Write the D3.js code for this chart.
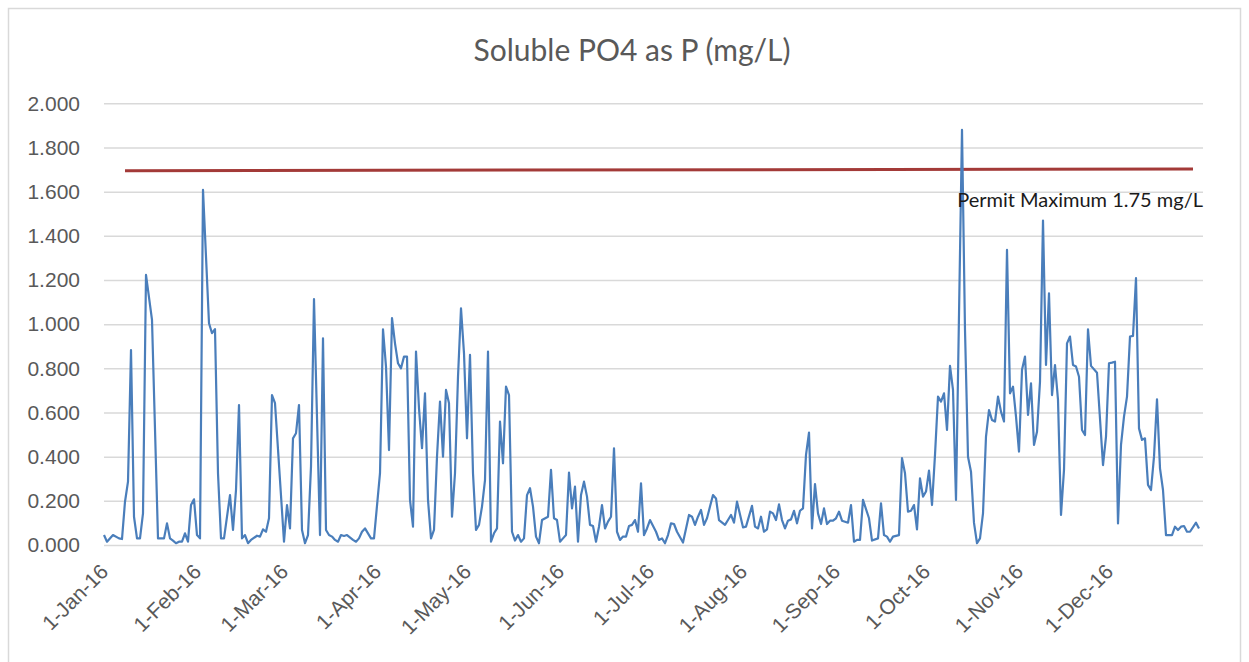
<!DOCTYPE html>
<html>
<head>
<meta charset="utf-8">
<script src="https://cdn.jsdelivr.net/npm/d3@7"></script>
<style>
    body { margin: 0; background: #fff; }
    svg { display: block; font-family: Lato, "Open Sans", sans-serif; }
    .grid line { stroke: #d9d9d9; stroke-width: 1.5; }
    .grid .domain { display: none; }
    .tick text { fill: #595959; font-size: 21px; }
    .po4 { fill: none; stroke: #4a7ebb; stroke-width: 2.2; stroke-linejoin: round; }
    .permit { fill: none; stroke: #a33a38; stroke-width: 3; }
</style>
</head>
<body>
<div class="panel"></div>
<script>

// Data ////////////////////////////////////

// day offset from 1-Jan-16, daily sample value (mg/L)
const sampleDay = [
    0, 1, 3, 5, 6, 7, 8, 9, 10, 11, 12, 13, 14, 16, 18, 20, 21, 22, 23, 24,
    25, 26, 27, 28, 29, 30, 31, 32, 33, 35, 36, 37, 38, 39, 40, 42, 43, 44, 45, 46,
    47, 48, 49, 51, 52, 53, 54, 55, 56, 57, 60, 61, 62, 63, 64, 65, 66, 67, 68, 69,
    70, 72, 73, 74, 75, 76, 77, 78, 79, 80, 81, 83, 84, 85, 86, 87, 89, 90, 92, 93,
    94, 95, 96, 97, 98, 99, 100, 101, 102, 103, 104, 105, 106, 107, 108, 109, 110, 111, 112, 113,
    114, 115, 116, 117, 118, 119, 120, 121, 122, 123, 124, 125, 126, 127, 128, 129, 130, 131, 132, 133,
    134, 135, 136, 137, 138, 139, 140, 141, 142, 143, 144, 145, 146, 148, 149, 150, 151, 152, 153, 154,
    155, 156, 157, 158, 159, 160, 161, 162, 163, 164, 165, 166, 167, 168, 169, 170, 171, 172, 173, 174,
    175, 176, 177, 178, 179, 180, 181, 182, 184, 185, 186, 187, 188, 189, 190, 191, 193, 195, 196, 197,
    198, 199, 200, 201, 202, 203, 204, 205, 207, 208, 209, 210, 211, 213, 214, 216, 217, 218, 219, 220,
    221, 222, 223, 224, 225, 226, 227, 228, 229, 230, 231, 232, 233, 234, 235, 236, 237, 238, 239, 240,
    241, 242, 243, 244, 245, 246, 248, 249, 250, 251, 252, 253, 255, 256, 258, 259, 260, 261, 262, 263,
    265, 266, 267, 268, 269, 270, 271, 272, 273, 274, 275, 276, 277, 278, 279, 280, 281, 282, 283, 284,
    286, 287, 288, 289, 290, 291, 292, 293, 294, 295, 296, 297, 298, 299, 300, 301, 302, 303, 304, 305,
    306, 307, 308, 309, 310, 311, 312, 313, 314, 315, 316, 317, 318, 319, 320, 321, 322, 323, 324, 325,
    326, 327, 328, 329, 331, 333, 334, 335, 336, 337, 338, 339, 340, 341, 342, 343, 344, 345, 346, 347,
    348, 349, 350, 351, 352, 353, 354, 356, 357, 358, 359, 360, 361, 362, 364, 365
];

const po4 = [
    .045, .015, .045, .030, .027, .196, .287, .883, .128, .030, .030, .143, 1.223, 1.019, .030, .030, .098, .030, .020, .008,
    .015, .015, .053, .015, .181, .207, .045, .030, 1.608, 1.004, .959, .977, .325, .030, .030, .226, .068, .249, .634, .030,
    .045, .008, .023, .042, .038, .071, .060, .121, .679, .642, .015, .181, .075, .483, .506, .634, .068, .008, .045, .355,
    1.113, .045, .936, .068, .045, .038, .023, .015, .045, .041, .045, .023, .015, .030, .060, .075, .030, .030, .325, .977,
    .808, .430, 1.027, .913, .823, .800, .853, .853, .204, .083, .876, .619, .438, .687, .204, .030, .068, .400, .649, .400,
    .702, .642, .128, .325, .762, 1.072, .868, .483, .861, .325, .068, .091, .174, .294, .876, .015, .053, .075, .559, .370,
    .717, .679, .060, .020, .045, .015, .030, .226, .257, .174, .038, .008, .113, .128, .340, .121, .113, .015, .030, .045,
    .328, .166, .264, .015, .226, .287, .219, .091, .086, .015, .083, .181, .075, .106, .128, .438, .060, .023, .038, .038,
    .086, .091, .113, .060, .279, .045, .075, .113, .060, .023, .030, .008, .045, .098, .095, .060, .011, .136, .128, .091,
    .128, .159, .091, .121, .174, .226, .211, .113, .091, .113, .136, .101, .196, .080, .083, .177, .083, .075, .128, .060,
    .071, .151, .143, .113, .184, .113, .075, .110, .116, .155, .098, .155, .166, .408, .509, .075, .276, .143, .095, .166,
    .095, .110, .110, .121, .151, .110, .101, .181, .015, .023, .023, .204, .121, .020, .030, .189, .045, .038, .015, .038,
    .045, .393, .325, .151, .155, .181, .071, .302, .219, .242, .337, .181, .408, .672, .649, .687, .521, .811, .702, .204,
    1.880, .974, .400, .332, .100, .008, .030, .143, .491, .611, .566, .559, .672, .604, .559, 1.336, .687, .717, .581, .423,
    .793, .853, .589, .732, .453, .513, .740, 1.469, .815, 1.140, .679, .815, .657, .136, .340, .913, .944, .815, .808, .762,
    .521, .498, .977, .811, .780, .362, .491, .823, .826, .830, .098, .453, .581, .672, .944, .947, 1.208, .528, .476, .483,
    .272, .249, .400, .660, .347, .249, .045, .045, .083, .068, .083, .086, .060, .060, .101, .075
];

const permitDay = [7, 363];
const permitValue = [1.695, 1.702];
const permitLabel = "Permit Maximum 1.75 mg/L";

const yTicks = [0, 0.2, 0.4, 0.6, 0.8, 1.0, 1.2, 1.4, 1.6, 1.8, 2.0];
const chartTitle = "Soluble PO4 as P (mg/L)";

// Chart ////////////////////////////////////

const width = 1249;
const height = 662;
const plot = { left: 104, right: 1202, top: 103.3, bottom: 545 };
const start = new Date(2016, 0, 1);

const svg = d3.select(".panel").append("svg")
    .attr("width", width)
    .attr("height", height)
    .attr("viewBox", [0, 0, width, height]);

// Frame

svg.append("rect")
    .attr("x", 8.5)
    .attr("y", 8.5)
    .attr("width", 1232)
    .attr("height", 670)
    .attr("fill", "#fff")
    .attr("stroke", "#d9d9d9")
    .attr("stroke-width", 1.5);

// Title

svg.append("text")
    .attr("x", 632)
    .attr("y", 61)
    .attr("text-anchor", "middle")
    .attr("fill", "#595959")
    .style("font-size", "30px")
    .text(chartTitle);

// Scales

const x = d3.scaleTime()
    .domain([start, d3.timeDay.offset(start, 366)])
    .range([plot.left, plot.right]);

const y = d3.scaleLinear()
    .domain([0, 2])
    .range([plot.bottom, plot.top]);

// Grid + y labels

svg.append("g")
    .attr("class", "grid")
    .attr("transform", `translate(${ plot.left },0)`)
    .call(d3.axisLeft(y)
        .tickValues(yTicks)
        .tickFormat(d3.format(".3f"))
        .tickSize(-(plot.right - plot.left + 1))
        .tickPadding(24));

// x labels

const xAxis = svg.append("g")
    .attr("class", "grid")
    .attr("transform", `translate(0,${ plot.bottom })`)
    .call(d3.axisBottom(x)
        .tickValues(d3.timeMonth.range(start, new Date(2016, 11, 2)))
        .tickFormat(d3.timeFormat("%-d-%b-%y"))
        .tickSize(0));

xAxis.selectAll(".tick text")
    .attr("y", 0)
    .attr("dy", 0)
    .attr("text-anchor", "end")
    .attr("transform", "translate(5,28) rotate(-45)");

// Permit line

const permit = permitDay.map((d, i) => [d3.timeDay.offset(start, d), permitValue[i]]);

svg.append("path")
    .attr("class", "permit")
    .attr("d", d3.line().x(d => x(d[0])).y(d => y(d[1]))(permit));

// PO4 series

const series = sampleDay.map((d, i) => [d3.timeDay.offset(start, d), po4[i]]);

svg.append("path")
    .attr("class", "po4")
    .attr("d", d3.line().x(d => x(d[0])).y(d => y(d[1]))(series));

// Permit label

svg.append("text")
    .attr("x", plot.right + 1)
    .attr("y", 207)
    .attr("text-anchor", "end")
    .attr("fill", "#1a1a1a")
    .style("font-size", "20px")
    .text(permitLabel);

</script>
</body>
</html>
